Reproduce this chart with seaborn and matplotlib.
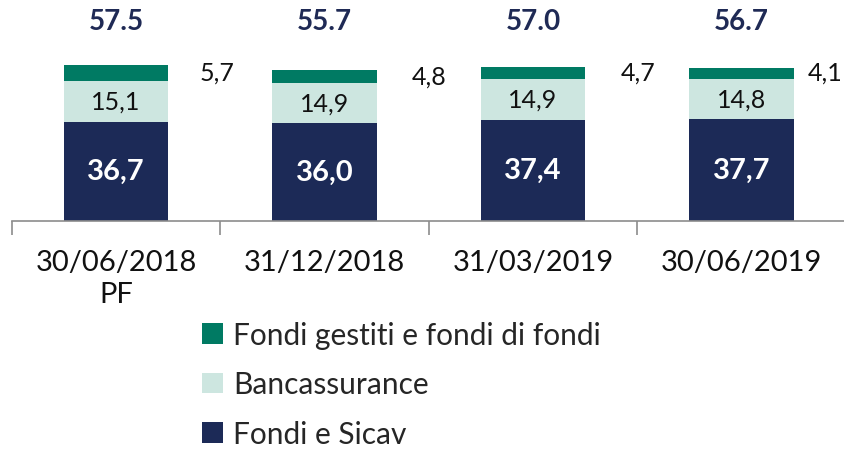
import matplotlib
matplotlib.use("Agg")
import matplotlib.pyplot as plt
import seaborn as sns
import numpy as np
import pandas as pd

# Chart data
categories = ["30/06/2018\nPF", "31/12/2018", "31/03/2019", "30/06/2019"]
fondi_sicav = [36.7, 36.0, 37.4, 37.7]
bancassurance = [15.1, 14.9, 14.9, 14.8]
fondi_gestiti = [5.7, 4.8, 4.7, 4.1]
totals = [57.5, 55.7, 57.0, 56.7]

NAVY = "#1C2A57"
MINT = "#CDE6E0"
TEAL = "#007A63"

sns.set_theme(style="white")
plt.rcParams["font.family"] = ["Lato", "DejaVu Sans"]

fig = plt.figure(figsize=(8.44, 4.52), dpi=100)
ax = fig.add_axes([0.014, 0.509, 0.988, 0.491])

df = pd.DataFrame({
    "cat": categories,
    "sicav": fondi_sicav,
    "banc": bancassurance,
    "gest": fondi_gestiti,
})
bottom2 = df["sicav"].values
bottom3 = bottom2 + df["banc"].values

bar_kw = dict(width=0.5, saturation=1, linewidth=0, ax=ax)
sns.barplot(data=df, x="cat", y="sicav", color=NAVY, label="Fondi e Sicav", **bar_kw)
sns.barplot(data=df, x="cat", y="banc", color=MINT, bottom=bottom2,
            label="Bancassurance", **bar_kw)
sns.barplot(data=df, x="cat", y="gest", color=TEAL, bottom=bottom3,
            label="Fondi gestiti e fondi di fondi", **bar_kw)

ax.set_xlim(-0.5, 3.5)
ax.set_ylim(0, 82)
ax.set_xlabel("")
ax.set_ylabel("")
ax.set_yticks([])
for side in ["left", "right", "top"]:
    ax.spines[side].set_visible(False)
ax.spines["bottom"].set_color("#8C8C8C")
ax.spines["bottom"].set_linewidth(1.2)

ax.tick_params(axis="x", which="major", length=0, pad=20, labelsize=21,
               labelcolor="#111111")
for lbl in ax.get_xticklabels():
    lbl.set_linespacing(1.3)
ax.set_xticks(np.arange(-0.5, 4.0, 1.0), minor=True)
ax.tick_params(axis="x", which="minor", length=10, width=1.2,
               color="#8C8C8C", direction="out", bottom=True)

# value labels
label_dx = [0.40, 0.42, 0.42, 0.32]
for i in range(len(categories)):
    ax.text(i, fondi_sicav[i] / 2, f"{fondi_sicav[i]:.1f}".replace(".", ","),
            ha="center", va="center", color="white", fontsize=21,
            fontweight="bold")
    ax.text(i, bottom2[i] + bancassurance[i] / 2,
            f"{bancassurance[i]:.1f}".replace(".", ","),
            ha="center", va="center", color="#111111", fontsize=18)
    ax.text(i + label_dx[i], bottom3[i] + fondi_gestiti[i] / 2 + 0.3,
            f"{fondi_gestiti[i]:.1f}".replace(".", ","),
            ha="left", va="center", color="#111111", fontsize=18,
            clip_on=False)
    ax.text(i, 74, f"{totals[i]:.1f}", ha="center", va="center",
            color="#1F2A55", fontsize=20, fontweight="bold")

handles, labels = ax.get_legend_handles_labels()
ax.legend(handles[::-1], labels[::-1], loc="upper left",
          bbox_to_anchor=(190 / 844, 1 - 310 / 452), bbox_transform=fig.transFigure,
          frameon=False, fontsize=21.5, handlelength=0.7, handleheight=0.7,
          handletextpad=0.35, labelspacing=0.72, borderaxespad=0)

fig.savefig("out.png", dpi=100)
